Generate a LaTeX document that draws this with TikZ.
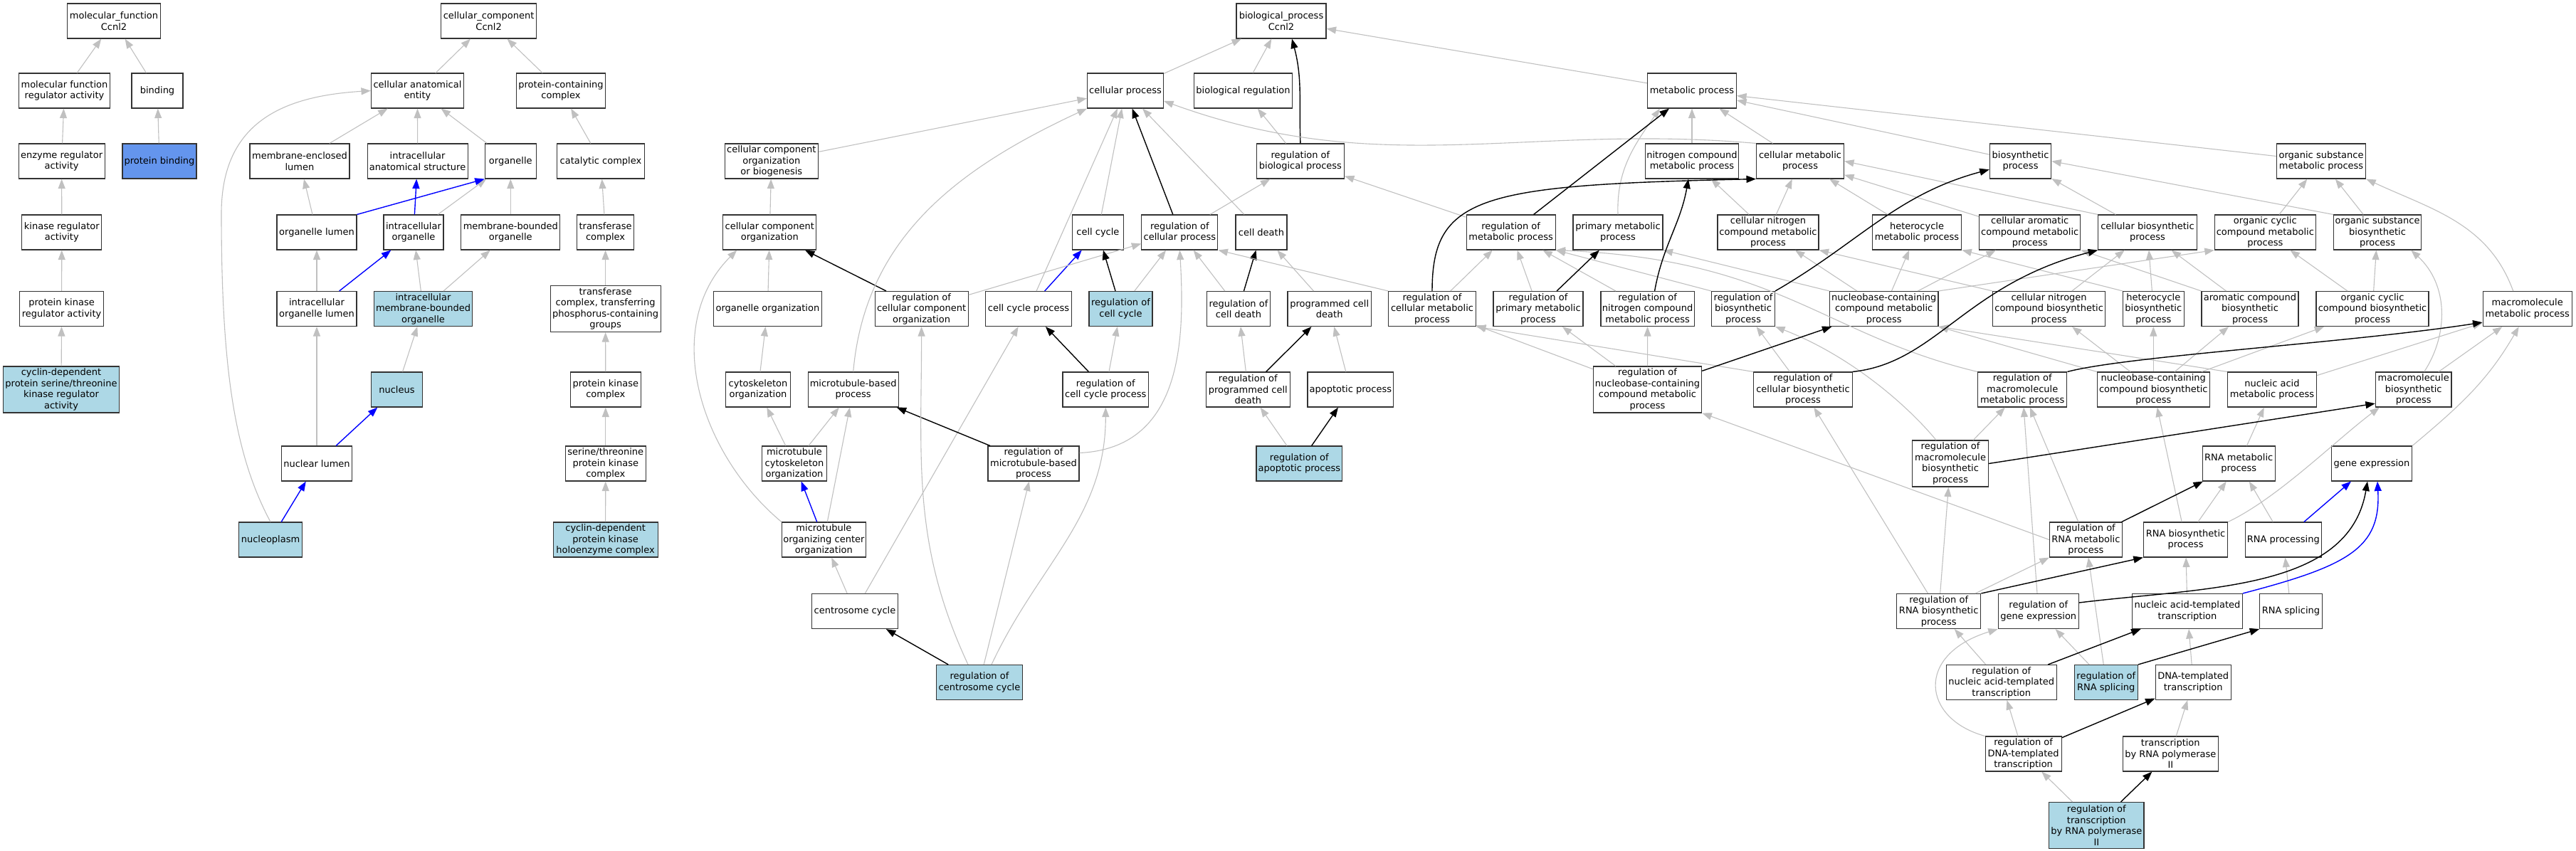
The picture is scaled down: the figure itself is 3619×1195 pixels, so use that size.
\documentclass[tikz,border=0pt]{standalone}
\usepackage{fontspec}
\setmainfont{DejaVu Sans}
\usetikzlibrary{arrows.meta}
\definecolor{edgegray}{RGB}{192,192,192}
\definecolor{hitblue}{RGB}{173,216,230}
\definecolor{seedblue}{RGB}{100,149,237}
\tikzset{
  term/.style={draw=black!80, line width=1.1pt, fill=white, rectangle, inner sep=2pt,
    minimum height=49pt, align=center, font=\fontsize{13}{15.5}\selectfont},
  hit/.style={term, fill=hitblue},
  tall/.style={minimum height=65pt},
  wd/.style={minimum width=#1pt},
  isa/.style={draw=edgegray, line width=1.1pt, -{Triangle[length=13.5pt,width=10pt]}},
  regs/.style={draw=black, line width=1.4pt, -{Triangle[length=13.5pt,width=10pt]}},
  partof/.style={draw=blue, line width=1.4pt, -{Triangle[length=13.5pt,width=10pt]}},
}
\begin{document}
\begin{tikzpicture}[x=1pt,y=1pt]
	\useasboundingbox (0,0) rectangle (3619,-1195);
	\node[term,wd=131] (mf) at (160,-29.5) {molecular\_function\\Ccnl2};
	\node[term,wd=134] (cc) at (686.6,-29.5) {cellular\_component\\Ccnl2};
	\node[term,wd=126] (bp) at (1800,-29.5) {biological\_process\\Ccnl2};
	\node[term,wd=128] (mfreg) at (90.5,-127.5) {molecular function\\regulator activity};
	\node[term,wd=72] (binding) at (221,-127.5) {binding};
	\node[term,wd=130] (cae) at (586.5,-127.5) {cellular anatomical\\entity};
	\node[term,wd=125] (pcc) at (788,-127.5) {protein-containing\\complex};
	\node[term,wd=107] (cp) at (1581,-127.5) {cellular process};
	\node[term,wd=138] (bioreg) at (1746.5,-127.5) {biological regulation};
	\node[term,wd=125] (mp) at (2377,-127.5) {metabolic process};
	\node[term,wd=121] (enzreg) at (86.6,-226.5) {enzyme regulator\\activity};
	\node[term,wd=104,fill=seedblue] (protbind) at (224,-226.5) {protein binding};
	\node[term,wd=140] (mel) at (421,-226.5) {membrane-enclosed\\lumen};
	\node[term,wd=141] (ias) at (586.6,-226.5) {intracellular\\anatomical structure};
	\node[term,wd=72] (organelle) at (717.3,-226.5) {organelle};
	\node[term,wd=123] (catcomp) at (844,-226.5) {catalytic complex};
	\node[term,wd=131] (ccob) at (1083.8,-226.5) {cellular component\\organization\\or biogenesis};
	\node[term,wd=123] (regbp) at (1826.9,-226.5) {regulation of\\biological process};
	\node[term,wd=131] (ncmp) at (2377,-226.5) {nitrogen compound\\metabolic process};
	\node[term,wd=123] (cmp) at (2529,-226.5) {cellular metabolic\\process};
	\node[term,wd=86.4] (biosyn) at (2838.5,-226.5) {biosynthetic\\process};
	\node[term,wd=125.3] (osmp) at (3261,-226.5) {organic substance\\metabolic process};
	\node[term,wd=112] (kinreg) at (86.8,-326.5) {kinase regulator\\activity};
	\node[term,wd=112] (ol) at (445,-326.5) {organelle lumen};
	\node[term,wd=84] (io) at (581,-326.5) {intracellular\\organelle};
	\node[term,wd=139] (mbo) at (717.3,-326.5) {membrane-bounded\\organelle};
	\node[term,wd=80] (transcomp) at (850.6,-326.5) {transferase\\complex};
	\node[term,wd=131] (cco) at (1081.3,-326.5) {cellular component\\organization};
	\node[term,wd=72] (cellcyc) at (1542.4,-326.5) {cell cycle};
	\node[term,wd=107] (regcp) at (1657.4,-326.5) {regulation of\\cellular process};
	\node[term,wd=72] (celldeath) at (1772,-326.5) {cell death};
	\node[term,wd=125] (regmp) at (2122.6,-326.5) {regulation of\\metabolic process};
	\node[term,wd=126] (primp) at (2273,-326.5) {primary metabolic\\process};
	\node[term,wd=142] (cncmp) at (2484,-326.5) {cellular nitrogen\\compound metabolic\\process};
	\node[term,wd=125.6] (hetmp) at (2693,-326.5) {heterocycle\\metabolic process};
	\node[term,wd=142.4] (camp) at (2851.7,-326.5) {cellular aromatic\\compound metabolic\\process};
	\node[term,wd=138.5] (cbp) at (3017,-326.5) {cellular biosynthetic\\process};
	\node[term,wd=142] (occmp) at (3182.3,-326.5) {organic cyclic\\compound metabolic\\process};
	\node[term,wd=123.3] (osbp) at (3340,-326.5) {organic substance\\biosynthetic\\process};
	\node[term,wd=118] (pkreg) at (86.6,-434) {protein kinase\\regulator activity};
	\node[term,wd=112] (iol) at (445,-434) {intracellular\\organelle lumen};
	\node[hit,wd=138.5] (imbo) at (594.5,-434) {intracellular\\membrane-bounded\\organelle};
	\node[term,wd=155,tall] (tcpg) at (850.6,-434) {transferase\\complex, transferring\\phosphorus-containing\\groups};
	\node[term,wd=152] (orgorg) at (1078.4,-434) {organelle organization};
	\node[term,wd=131] (regcco) at (1294.6,-434) {regulation of\\cellular component\\organization};
	\node[term,wd=120.6] (ccp) at (1445,-434) {cell cycle process};
	\node[hit,wd=89] (regcc) at (1574.5,-434) {regulation of\\cell cycle};
	\node[term,wd=89] (regcd) at (1740,-434) {regulation of\\cell death};
	\node[term,wd=117.5] (pcd) at (1867.7,-434) {programmed cell\\death};
	\node[term,wd=122.6] (regcmp) at (2012,-434) {regulation of\\cellular metabolic\\process};
	\node[term,wd=126] (regprimp) at (2161,-434) {regulation of\\primary metabolic\\process};
	\node[term,wd=131] (regncmp) at (2314.6,-434) {regulation of\\nitrogen compound\\metabolic process};
	\node[term,wd=89] (regbiosyn) at (2449,-434) {regulation of\\biosynthetic\\process};
	\node[term,wd=152.5] (nccmp) at (2646.7,-434) {nucleobase-containing\\compound metabolic\\process};
	\node[term,wd=158] (cncbp) at (2878.6,-434) {cellular nitrogen\\compound biosynthetic\\process};
	\node[term,wd=85.6] (hetbp) at (3025.3,-434) {heterocycle\\biosynthetic\\process};
	\node[term,wd=136] (acbp) at (3161,-434) {aromatic compound\\biosynthetic\\process};
	\node[term,wd=158] (occbp) at (3333,-434) {organic cyclic\\compound biosynthetic\\process};
	\node[term,wd=125.3] (mmp) at (3550.7,-434) {macromolecule\\metabolic process};
	\node[hit,wd=163,tall] (cdkreg) at (86,-547.5) {cyclin-dependent\\protein serine/threonine\\kinase regulator\\activity};
	\node[hit,wd=72] (nucleus) at (557.4,-547.5) {nucleus};
	\node[term,wd=99] (pkc) at (850.8,-547.5) {protein kinase\\complex};
	\node[term,wd=91] (cytorg) at (1065,-547.5) {cytoskeleton\\organization};
	\node[term,wd=127] (mtbp) at (1198.7,-547.5) {microtubule-based\\process};
	\node[term,wd=120.6] (regccp) at (1553.3,-547.5) {regulation of\\cell cycle process};
	\node[term,wd=117.5] (regpcd) at (1753.3,-547.5) {regulation of\\programmed cell\\death};
	\node[term,wd=120.6] (apopt) at (1897.3,-547.5) {apoptotic process};
	\node[term,wd=152.5,tall] (regnccmp) at (2314.5,-547.5) {regulation of\\nucleobase-containing\\compound metabolic\\process};
	\node[term,wd=138.5] (regcbp) at (2533,-547.5) {regulation of\\cellular biosynthetic\\process};
	\node[term,wd=125.3] (regmmp) at (2841.2,-547.5) {regulation of\\macromolecule\\metabolic process};
	\node[term,wd=158] (nccbp) at (3025.3,-547.5) {nucleobase-containing\\compound biosynthetic\\process};
	\node[term,wd=125.3] (namp) at (3192,-547.5) {nucleic acid\\metabolic process};
	\node[term,wd=106.6] (mbp) at (3390.7,-547.5) {macromolecule\\biosynthetic\\process};
	\node[term,wd=99] (nuclum) at (445,-651.5) {nuclear lumen};
	\node[term,wd=112.5] (stpkc) at (850.8,-651.5) {serine/threonine\\protein kinase\\complex};
	\node[term,wd=91] (mtcyto) at (1116,-651.5) {microtubule\\cytoskeleton\\organization};
	\node[term,wd=128] (regmtbp) at (1452,-651.5) {regulation of\\microtubule-based\\process};
	\node[hit,wd=120.6] (regapopt) at (1825.3,-651.5) {regulation of\\apoptotic process};
	\node[term,wd=107,tall] (regmbp) at (2740,-651.5) {regulation of\\macromolecule\\biosynthetic\\process};
	\node[term,wd=102] (rnamp) at (3145.2,-651.5) {RNA metabolic\\process};
	\node[term,wd=113] (geneexp) at (3332,-651.5) {gene expression};
	\node[hit,wd=89] (nucleoplasm) at (380,-758.5) {nucleoplasm};
	\node[hit,wd=147] (cdkhc) at (850.6,-758.5) {cyclin-dependent\\protein kinase\\holoenzyme complex};
	\node[term,wd=118] (mtoc) at (1157.4,-758.5) {microtubule\\organizing center\\organization};
	\node[term,wd=102] (regrnamp) at (2930.4,-758.5) {regulation of\\RNA metabolic\\process};
	\node[term,wd=118.3] (rnabp) at (3070.5,-758.5) {RNA biosynthetic\\process};
	\node[term,wd=107.4] (rnaproc) at (3207.8,-758.5) {RNA processing};
	\node[term,wd=120.6] (centcyc) at (1201,-859) {centrosome cycle};
	\node[term,wd=118.3] (regrnabp) at (2723.7,-859) {regulation of\\RNA biosynthetic\\process};
	\node[term,wd=113] (reggene) at (2863.8,-859) {regulation of\\gene expression};
	\node[term,wd=154.5] (nat) at (3073,-859) {nucleic acid-templated\\transcription};
	\node[term,wd=87.5] (rnasplice) at (3218.5,-859) {RNA splicing};
	\node[hit,wd=120.6] (regcent) at (1376,-959) {regulation of\\centrosome cycle};
	\node[term,wd=154.5] (regnat) at (2811.8,-959) {regulation of\\nucleic acid-templated\\transcription};
	\node[hit,wd=89] (regsplice) at (2958.8,-959) {regulation of\\RNA splicing};
	\node[term,wd=106.2] (dnat) at (3081.2,-959) {DNA-templated\\transcription};
	\node[term,wd=107] (regdna) at (2842.6,-1059.5) {regulation of\\DNA-templated\\transcription};
	\node[term,wd=133.5] (trnap) at (3049.3,-1059.5) {transcription\\by RNA polymerase\\II};
	\node[hit,wd=133.4,tall] (regrnap) at (2945.3,-1160) {regulation of\\transcription\\by RNA polymerase\\II};

	\foreach \a/\b in {mfreg/mf,binding/mf,enzreg/mfreg,protbind/binding,kinreg/enzreg,pkreg/kinreg,cdkreg/pkreg,
		cae/cc,pcc/cc,mel/cae,ias/cae,organelle/cae,ol/mel,io/organelle,mbo/organelle,catcomp/pcc,transcomp/catcomp,
		iol/ol,imbo/io,imbo/mbo,tcpg/transcomp,nucleus/imbo,pkc/tcpg,nuclum/iol,stpkc/pkc,cdkhc/stpkc}{
		\draw[isa] (\a) -- (\b);
	}
	\foreach \a/\b in {io/ias,iol/io,nuclum/nucleus,nucleoplasm/nuclum,ccp/cellcyc,mtoc/mtcyto,rnaproc/geneexp}{
		\draw[partof] (\a) -- (\b);
	}
	\draw[partof] (ol.north east) -- (organelle.south west);
	\draw[isa] (nucleoplasm.north) .. controls (330,-640) and (311,-520) .. (311,-300) .. controls (311,-170) and (400,-135) .. (cae.west);

	\foreach \a/\b in {cp/bp,bioreg/bp,regbp/bioreg,mp/bp,ccob/cp,cco/ccob,orgorg/cco,cytorg/orgorg,mtcyto/cytorg,mtcyto/mtbp,
		mtoc/mtbp,centcyc/mtoc,centcyc/ccp,regcent/regmtbp,cellcyc/cp,celldeath/cp,regcco/regcp,ccp/cp,regcc/regcp,
		regccp/regcc,regcd/regcp,pcd/celldeath,regpcd/regcd,apopt/pcd,regapopt/regpcd,regmp/regbp,regcp/regbp}{
		\draw[isa] (\a) -- (\b);
	}
	\foreach \a/\b in {regcp/cp,regcco/cco,regcc/cellcyc,regccp/ccp,regcd/celldeath,regpcd/pcd,regapopt/apopt,
		regmtbp/mtbp,regcent/centcyc}{
		\draw[regs] (\a) -- (\b);
	}
	\draw[regs] (regbp.north) to[out=92,in=-75] ([xshift=15pt]bp.south);
	\draw[isa] (mtbp.north) to[out=85,in=-155] (cp.south west);
	\draw[isa] (mtoc.north west) to[out=140,in=-135] ([xshift=20pt]cco.south west);
	\draw[isa] ([xshift=-16pt]regcent.north) to[out=115,in=-90] (regcco.south);
	\draw[isa] ([xshift=17pt]regcent.north) to[out=65,in=-90] (regccp.south);
	\draw[isa] ([yshift=15pt]regmtbp.east) .. controls (1660,-630) and (1665,-480) .. (regcp.south);
	\draw[isa] (regcmp.north west) -- (regcp.south east);
	\draw[isa] (cmp.north west) to[out=175,in=-20] (cp.-15);

	\foreach \a/\b in {cncmp/ncmp,cncmp/cmp,hetmp/cmp,camp/cmp,cbp/biosyn,occmp/osmp,osbp/osmp,ncmp/mp,cmp/mp,biosyn/mp,
		osmp/mp,regcmp/regmp,regprimp/regmp,regncmp/regmp,regnccmp/regcmp,regnccmp/regprimp,regnccmp/regncmp,
		regcbp/regbiosyn,nccmp/cncmp,nccmp/hetmp,nccmp/camp,cncbp/cbp,hetbp/cbp,acbp/cbp,occbp/occmp,occbp/osbp,
		nccbp/hetbp,nccbp/cncbp,nccbp/acbp,nccbp/occbp,namp/mmp,mbp/mmp,
		regmbp/regmmp,reggene/regmmp,regrnamp/regmmp,regrnabp/regcbp,regrnabp/regmbp,regrnabp/regrnamp,
		regnat/regrnabp,regsplice/reggene,regsplice/regrnamp,regdna/regnat,regrnap/regdna,trnap/dnat,dnat/nat,
		nat/rnabp,rnasplice/rnaproc,rnabp/rnamp,rnabp/nccbp,rnaproc/rnamp,rnamp/namp}{
		\draw[isa] (\a) -- (\b);
	}
	\draw[isa] (cbp.north west) -- (cmp.east);
	\draw[isa] (osbp.north west) -- (biosyn.east);
	\draw[isa] (regbiosyn.north west) -- (regmp.south east);
	\draw[isa] (regcbp.north west) -- (regcmp.south east);
	\draw[isa] (nccmp.north east) -- (occmp.south west);
	\draw[isa] (nccmp.north west) -- (primp.south east);
	\draw[isa] (cncbp.north west) -- (cncmp.south east);
	\draw[isa] (hetbp.north west) -- (hetmp.south east);
	\draw[isa] (acbp.north west) -- (camp.south east);
	\draw[isa] (nccbp.north west) -- (nccmp.south east);
	\draw[isa] (namp.north west) -- (nccmp.south east);
	\draw[isa] (regrnamp.west) -- (regnccmp.south east);
	\draw[isa] (primp.north) to[out=92,in=-125] ([xshift=18pt]mp.south west);
	\draw[isa] (regmmp.north west) .. controls (2560,-470) and (2500,-365) .. (regmp.south east);
	\draw[isa] ([xshift=-20pt]regmbp.north) .. controls (2680,-570) and (2600,-500) .. (regbiosyn.south east);
	\draw[isa] (geneexp.north east) to[out=40,in=-120] ([xshift=-12pt]mmp.south);
	\draw[isa] ([xshift=15pt]mbp.north) .. controls (3440,-470) and (3440,-400) .. ([xshift=-15pt]osbp.south east);
	\draw[isa] ([xshift=-20pt]mmp.north) to[out=110,in=-25] (osmp.south east);
	\draw[isa] (rnabp.north east) .. controls (3200,-700) and (3280,-620) .. ([xshift=6pt]mbp.south west);
	\draw[isa] (regdna.north west) .. controls (2700,-1010) and (2690,-920) .. (reggene.south west);

	\foreach \a/\b in {regmp/mp,regprimp/primp,regnccmp/nccmp,regrnamp/rnamp,regnat/nat,regdna/dnat,regrnap/trnap}{
		\draw[regs] (\a) -- (\b);
	}
	\draw[regs] (regmbp.east) -- (mbp.-160);
	\draw[regs] (regrnabp.north east) -- (rnabp.south west);
	\draw[regs] (regsplice.north east) -- (rnasplice.south west);
	\draw[regs] (regcmp.north) .. controls (2012,-275) and (2080,-260) .. (cmp.south west);
	\draw[regs] ([xshift=10pt]regncmp.north) to[out=80,in=-100] ([xshift=-5pt]ncmp.south);
	\draw[regs] (regbiosyn.north east) to[out=30,in=195] (biosyn.-165);
	\draw[regs] (regcbp.north east) .. controls (2720,-510) and (2760,-400) .. (cbp.south west);
	\draw[regs] (regmmp.north east) .. controls (2990,-500) and (3300,-482) .. ([yshift=6pt]mmp.south west);
	\draw[regs] ([yshift=12pt]reggene.east) .. controls (3100,-825) and (3300,-830) .. ([xshift=-6pt]geneexp.south);
	\draw[partof] (nat.north east) .. controls (3300,-795) and (3345,-770) .. ([xshift=8pt]geneexp.south);
\end{tikzpicture}
\end{document}
